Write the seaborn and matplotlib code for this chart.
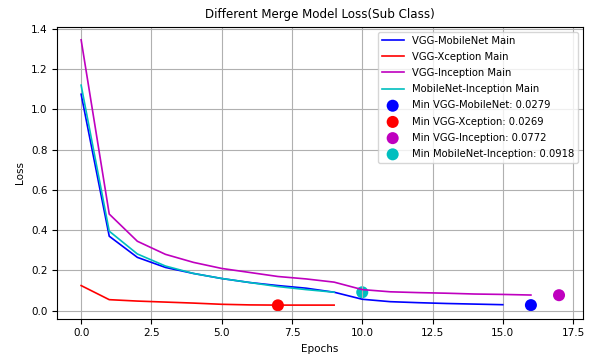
import numpy as np
import pandas as pd
import seaborn as sns
from matplotlib import pyplot as plt

# loss curves
vgg_mobilenet = [1.075, 0.37, 0.265, 0.215, 0.185, 0.16, 0.14, 0.125, 0.112, 0.092,
                 0.057, 0.045, 0.040, 0.036, 0.033, 0.030]
vgg_xception = [0.125, 0.055, 0.048, 0.043, 0.038, 0.032, 0.029, 0.028, 0.028, 0.028]
vgg_inception = [1.345, 0.48, 0.345, 0.28, 0.24, 0.21, 0.19, 0.17, 0.158, 0.142,
                 0.105, 0.094, 0.090, 0.087, 0.083, 0.081, 0.078]
mobilenet_inception = [1.12, 0.395, 0.282, 0.222, 0.185, 0.16, 0.14, 0.12, 0.105, 0.092]

series_names = ['VGG-MobileNet', 'VGG-Xception', 'VGG-Inception', 'MobileNet-Inception']
series_colors = ['b', 'r', 'm', 'c']
min_epochs = [16, 7, 17, 10]
min_losses = [0.0279, 0.0269, 0.0772, 0.0918]

series_values = [vgg_mobilenet, vgg_xception, vgg_inception, mobilenet_inception]

plt.rcParams['font.size'] = 7.5
fig, ax = plt.subplots(figsize=(5.9, 3.54), dpi=100)

for name, vals, col in zip(series_names, series_values, series_colors):
    d = pd.DataFrame({'Epochs': np.arange(len(vals)), 'Loss': vals})
    sns.lineplot(data=d, x='Epochs', y='Loss', color=col, label=name + ' Main',
                 linewidth=1.2, ax=ax)

for name, ep, lo, col in zip(series_names, min_epochs, min_losses, series_colors):
    d = pd.DataFrame({'Epochs': [ep], 'Loss': [lo]})
    sns.scatterplot(data=d, x='Epochs', y='Loss', color=col, s=75, edgecolor='none',
                    label=f'Min {name}: {lo}', ax=ax)

ax.grid(True, color='#b0b0b0', linewidth=0.8)
ax.set_title('Different Merge Model Loss(Sub Class)', fontsize=8.6)
ax.set_xlabel('Epochs')
ax.set_ylabel('Loss')
ax.legend(loc='upper right', fontsize=7.2, labelspacing=0.62, handlelength=2.2)

fig.subplots_adjust(left=0.097, right=0.988, top=0.925, bottom=0.10)
fig.savefig('out.png', dpi=100)
